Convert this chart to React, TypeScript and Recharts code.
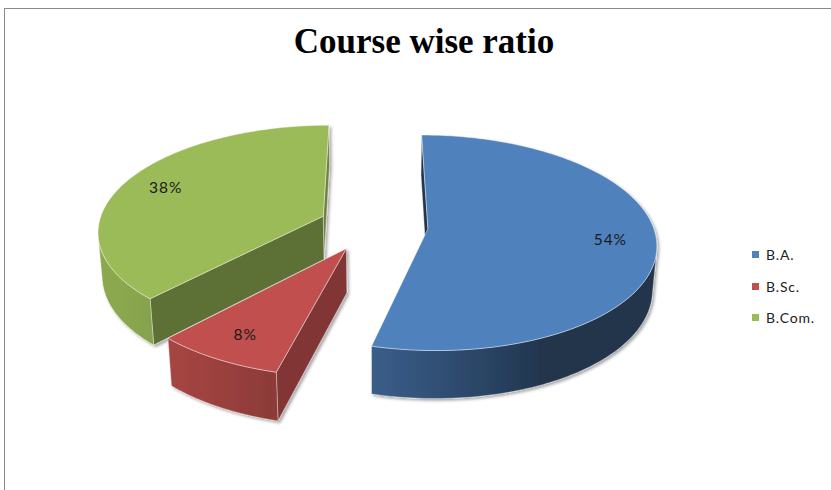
import { PieChart, Pie, Cell, Legend } from 'recharts';

const categories = ['B.A.', 'B.Sc.', 'B.Com.'];
const shares = [54, 8, 38];
const sliceColors = ['#4F81BD', '#C0504D', '#9BBB59'];

const colorOf: Record<string, string> = Object.fromEntries(categories.map((c, i) => [c, sliceColors[i]]));

// Excel starts at 12 o'clock and goes clockwise. Going counter-clockwise over the
// reversed list gives the same layout and paints the back slices first.
const pieData = categories.map((name, i) => ({ name, value: shares[i] })).reverse();

// fake 3D: tilt, camera distance, explode and slab height
const SIN = 0.467;
const COS = 0.884;
const DIST = 1530;
const CAM_Z = -DIST * COS;
const EXPLODE = 0.243;
const DEPTH = 50;
const LX = -0.898;
const LZ = -0.44;

const shade = (hex: string, f: number) => {
  const n = parseInt(hex.slice(1), 16);
  const ch = [n >> 16, (n >> 8) & 255, n & 255].map((c) => Math.round(Math.min(255, c * f)));
  return `rgb(${ch.join(',')})`;
};

const project = (cx: number, cy: number, X: number, Y: number, Z: number) => {
  const d = 1 + (Z * COS - Y * SIN) / DIST;
  return [cx + X / d, cy - (Y * COS + Z * SIN) / d];
};

const pts = (list: number[][]) => list.map((p) => `${p[0].toFixed(2)},${p[1].toFixed(2)}`).join(' ');

function Slice3D(props: any) {
  const { cx, cy, outerRadius: r, startAngle, endAngle, midAngle, percent, payload, index } = props;
  const base = colorOf[payload?.name ?? props.name] ?? props.fill;
  const rad = Math.PI / 180;
  const m = midAngle * rad;
  const ox = EXPLODE * r * Math.cos(m);
  const oz = EXPLODE * r * Math.sin(m);
  const steps = Math.max(2, Math.ceil(Math.abs(endAngle - startAngle)));
  const angles = Array.from({ length: steps + 1 }, (_, k) => (startAngle + ((endAngle - startAngle) * k) / steps) * rad);
  const rim = (a: number, y: number) => project(cx, cy, ox + r * Math.cos(a), y, oz + r * Math.sin(a));
  const apex = (y: number) => project(cx, cy, ox, y, oz);
  const edge = 'rgba(255,255,255,0.55)';

  const faces: any[] = [];
  const defs: any[] = [];
  // flat cut faces along the two radii
  ([[startAngle, 1], [endAngle, -1]] as number[][]).forEach(([deg, sgn], j) => {
    const a = deg * rad;
    const nx = sgn * Math.sin(a);
    const nz = -sgn * Math.cos(a);
    if ((0 - ox) * nx + (CAM_Z - oz) * nz <= 0) return;
    const f = 0.55 + 0.25 * (nx * 0.6 + nz * 0.35);
    faces.push(
      <polygon
        key={`cut${j}`}
        points={pts([apex(0), rim(a, 0), rim(a, -DEPTH), apex(-DEPTH)])}
        fill={shade(base, f)}
        stroke={edge}
        strokeWidth={0.7}
      />
    );
  });

  // curved outer wall: runs of rim angles that face the camera, filled with a gradient
  const facing = (a: number) => {
    const nx = Math.cos(a);
    const nz = Math.sin(a);
    return (0 - (ox + r * nx)) * nx + (CAM_Z - (oz + r * nz)) * nz > 0;
  };
  const runs: number[][] = [];
  let cur: number[] = [];
  angles.forEach((a) => {
    if (facing(a)) cur.push(a);
    else if (cur.length) {
      runs.push(cur);
      cur = [];
    }
  });
  if (cur.length) runs.push(cur);
  runs.forEach((run, j) => {
    if (run.length < 2) return;
    const topPts = run.map((a) => rim(a, 0));
    const botPts = run.map((a) => rim(a, -DEPTH)).reverse();
    const xs = topPts.map((p) => p[0]);
    const x0 = Math.min(...xs);
    const x1 = Math.max(...xs);
    const gid = `wall-${index}-${j}`;
    defs.push(
      <linearGradient key={gid} id={gid} gradientUnits="userSpaceOnUse" x1={x0} y1={0} x2={x1} y2={0}>
        {run.map((a, k) => (
          <stop
            key={k}
            offset={x1 > x0 ? (xs[k] - x0) / (x1 - x0) : 0}
            stopColor={shade(base, 0.4 + 0.5 * Math.max(0, Math.cos(a) * LX + Math.sin(a) * LZ))}
          />
        ))}
      </linearGradient>
    );
    faces.push(
      <polygon key={`wall${j}`} points={pts([...topPts, ...botPts])} fill={`url(#${gid})`} stroke={edge} strokeWidth={0.6} />
    );
  });

  const top = [apex(0), ...angles.map((a) => rim(a, 0))];
  const lbl = project(cx, cy, ox + 0.8 * r * Math.cos(m), 0, oz + 0.8 * r * Math.sin(m));
  const fid = `slice-shadow-${index}`;

  return (
    <g>
      <defs>
        <filter id={fid} x="-20%" y="-20%" width="140%" height="140%">
          <feDropShadow dx="2" dy="2" stdDeviation="1.8" floodColor="#000" floodOpacity="0.35" />
        </filter>
        {defs}
      </defs>
      <g filter={`url(#${fid})`}>
        {faces}
        <polygon points={pts(top)} fill={base} stroke={edge} strokeWidth={0.8} />
      </g>
      <text
        x={lbl[0]}
        y={lbl[1]}
        textAnchor="middle"
        dominantBaseline="central"
        fontFamily="Lato, 'Open Sans', sans-serif"
        fontSize={15.5}
        letterSpacing={1}
        fill="#1a1a1a"
      >
        {`${Math.round(percent * 100)}%`}
      </text>
    </g>
  );
}

function LegendList({ payload }: any) {
  const items = [...(payload ?? [])].sort(
    (a: any, b: any) => categories.indexOf(a.value) - categories.indexOf(b.value)
  );
  return (
    <div style={{ fontFamily: "Lato, 'Open Sans', sans-serif", fontSize: 14, letterSpacing: 0.8, color: '#222' }}>
      {items.map((it: any) => (
        <div key={it.value} style={{ display: 'flex', alignItems: 'center', height: 31.5 }}>
          <span
            style={{
              display: 'inline-block',
              width: 7,
              height: 7,
              marginRight: 7,
              background: colorOf[it.value] ?? it.color,
            }}
          />
          <span>{it.value}</span>
        </div>
      ))}
    </div>
  );
}

export default function App() {
  return (
    <div style={{ position: 'fixed', left: 0, top: 0, width: 831, height: 490, overflow: 'hidden', background: '#fff' }}>
      <div
        style={{
          position: 'absolute',
          left: 4,
          top: 8,
          width: 850,
          height: 500,
          border: '1px solid #8a8a8a',
          boxSizing: 'border-box',
        }}
      />
      <div
        style={{
          position: 'absolute',
          left: 0,
          top: 22,
          width: 848,
          textAlign: 'center',
          fontFamily: "'Liberation Serif', 'Times New Roman', serif",
          fontWeight: 'bold',
          fontSize: 35,
          lineHeight: '40px',
          color: '#000',
        }}
      >
        Course wise ratio
      </div>
      <div style={{ position: 'absolute', left: 0, top: 0 }}>
        <PieChart width={831} height={490} margin={{ top: 0, right: 0, bottom: 0, left: 0 }}>
          <Pie
            data={pieData}
            dataKey="value"
            nameKey="name"
            cx={373.5}
            cy={225.5}
            outerRadius={225}
            startAngle={90}
            endAngle={450}
            stroke="none"
            label={Slice3D}
            labelLine={false}
            isAnimationActive={false}
          >
            {pieData.map((d) => (
              <Cell key={d.name} fill={colorOf[d.name]} fillOpacity={0} stroke="none" />
            ))}
          </Pie>
          <Legend
            layout="vertical"
            align="right"
            verticalAlign="middle"
            content={LegendList}
            wrapperStyle={{ left: 752, top: 239, width: 79 }}
          />
        </PieChart>
      </div>
    </div>
  );
}
